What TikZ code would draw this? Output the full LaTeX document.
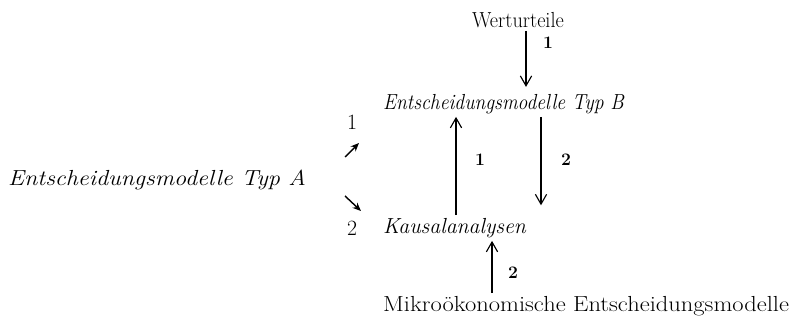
\documentclass[tikz,border=0pt]{standalone}
\usepackage{amsmath}
\usepackage{tikz}
\usetikzlibrary{arrows.meta}

\begin{document}
\begin{tikzpicture}[x=0.025cm,y=-0.025cm,
    txt/.style={font=\fontsize{15.5}{18}\selectfont,inner sep=2pt},
    itxt/.style={font=\fontsize{15.5}{18}\selectfont\itshape,inner sep=2pt},
    lbl/.style={font=\fontsize{12.5}{15}\selectfont\bfseries},
    flow/.style={-{Straight Barb[length=7pt,width=8pt]},line width=0.8pt},
    hint/.style={-{Stealth[length=6pt,width=5pt]},line width=1pt}]
                \useasboundingbox (0,0) rectangle (793,327);
                \node[txt] (wert) at (518,20) {\scalebox{0.93}[1]{Werturteile}};
                \node[itxt,anchor=west] (typb) at (380,104) {\scalebox{0.9}[1]{Entscheidungsmodelle Typ B}};
                \node[itxt,anchor=west] (typa) at (5,180) {\scalebox{1.11}[1]{Entscheidungsmodelle Typ A}};
                \node[itxt,anchor=west] (kausal) at (380,228) {Kausalanalysen};
                \node[txt,anchor=west] (mikro) at (380,306) {\scalebox{1.125}[1]{Mikro\"okonomische Entscheidungsmodelle}};
                % x positions of the vertical connectors
                \coordinate (cw) at (526,0);
                \coordinate (cu) at (456,0);
                \coordinate (cd) at (541,0);
                \coordinate (cm) at (492,0);
                \draw[flow,shorten >=3pt] (wert.south -| cw) -- (typb.north -| cw);
                \draw[flow] (kausal.north -| cu) -- (typb.south -| cu);
                \draw[flow,shorten >=7pt] (typb.south -| cd) -- (kausal.north -| cd);
                \draw[flow] (mikro.north -| cm) -- (kausal.south -| cm);
                \node[lbl] (l1) at (548,43) {1};
                \node[lbl] (l2) at (480,160) {1};
                \node[lbl] (l3) at (566,160) {2};
                \node[lbl] (l4) at (513,273) {2};
                % numbers and marks in front of typ B / Kausalanalysen
                \node[txt] (n1) at (352,122) {1};
                \node[txt] (n2) at (352,228) {2};
                \coordinate (a1s) at (345,157);
                \coordinate (a1e) at (359,143);
                \coordinate (a2s) at (345,196);
                \coordinate (a2e) at (361,211);
                \draw[hint] (a1s) -- (a1e);
                \draw[hint] (a2s) -- (a2e);
            \end{tikzpicture}
\end{document}
